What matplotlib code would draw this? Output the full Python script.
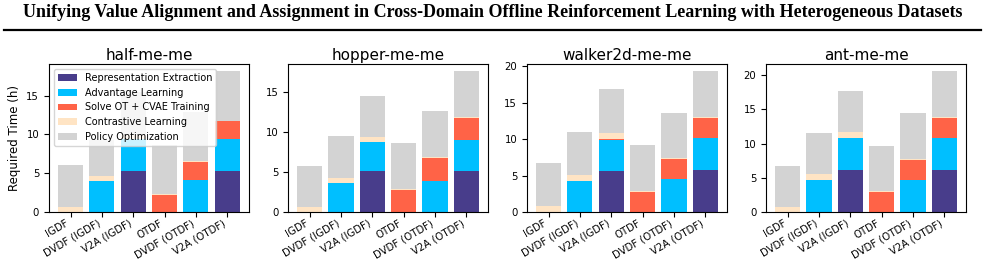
import matplotlib
matplotlib.use("Agg")
import matplotlib.pyplot as plt
from matplotlib.lines import Line2D
import numpy as np

methods = ["IGDF", "DVDF (IGDF)", "V2A (IGDF)", "OTDF", "DVDF (OTDF)", "V2A (OTDF)"]
stages = ["Representation Extraction", "Advantage Learning", "Solve OT + CVAE Training",
          "Contrastive Learning", "Policy Optimization"]
colors = ["#483D8B", "#00BFFF", "#FF6347", "#FFE4C4", "#D3D3D3"]
tasks = ["half-me-me", "hopper-me-me", "walker2d-me-me", "ant-me-me"]

# hours per stage, one list per method order above
half_rep = [0, 0, 5.27, 0, 0, 5.27]
half_adv = [0, 3.97, 4.10, 0, 4.10, 4.15]
half_ot = [0, 0, 0, 2.16, 2.34, 2.28]
half_con = [0.60, 0.70, 0.60, 0.13, 0.10, 0.10]
half_pol = [5.45, 4.63, 5.53, 6.31, 6.36, 6.40]

hopper_rep = [0, 0, 5.08, 0, 0, 5.08]
hopper_adv = [0, 3.58, 3.62, 0, 3.83, 3.92]
hopper_ot = [0, 0, 0, 2.70, 2.84, 2.75]
hopper_con = [0.58, 0.67, 0.63, 0.13, 0.12, 0.12]
hopper_pol = [5.12, 5.21, 5.13, 5.75, 5.79, 5.71]

walker_rep = [0, 0, 5.60, 0, 0, 5.78]
walker_adv = [0, 4.22, 4.30, 0, 4.50, 4.40]
walker_ot = [0, 0, 0.10, 2.75, 2.80, 2.76]
walker_con = [0.78, 0.83, 0.83, 0.14, 0.10, 0.13]
walker_pol = [5.92, 5.91, 6.05, 6.28, 6.18, 6.29]

ant_rep = [0, 0, 6.10, 0, 0, 6.10]
ant_adv = [0, 4.63, 4.68, 0, 4.68, 4.68]
ant_ot = [0, 0, 0, 2.93, 2.92, 2.92]
ant_con = [0.68, 0.88, 0.88, 0.14, 0.12, 0.15]
ant_pol = [6.00, 5.99, 6.00, 6.53, 6.72, 6.75]

all_data = [
    [half_rep, half_adv, half_ot, half_con, half_pol],
    [hopper_rep, hopper_adv, hopper_ot, hopper_con, hopper_pol],
    [walker_rep, walker_adv, walker_ot, walker_con, walker_pol],
    [ant_rep, ant_adv, ant_ot, ant_con, ant_pol],
]

fig = plt.figure(figsize=(9.85, 2.6), dpi=100)

fig.text(0.5, 0.952, "Unifying Value Alignment and Assignment in Cross-Domain Offline "
         "Reinforcement Learning with Heterogeneous Datasets",
         ha="center", va="center", fontsize=13, fontweight="bold", family="Liberation Serif")
fig.add_artist(Line2D([0.004, 0.996], [0.886, 0.886], color="black", lw=1.6))

lefts = [0.0497, 0.2924, 0.535, 0.7777]
x = np.arange(len(methods))

for i, task in enumerate(tasks):
    ax = fig.add_axes([lefts[i], 0.185, 0.203, 0.569])
    bottom = np.zeros(len(methods))
    for vals, name, c in zip(all_data[i], stages, colors):
        ax.bar(x, vals, 0.8, bottom=bottom, color=c, label=name)
        bottom += np.array(vals)
    ax.set_title(task, fontsize=11, pad=3)
    ax.set_xticks(x)
    ax.set_xticklabels(methods, rotation=30, ha="right", fontsize=7.3)
    ax.tick_params(axis="y", labelsize=7.3)
    ax.tick_params(axis="x", pad=1)
    if i == 0:
        ax.set_ylabel("Required Time (h)", fontsize=8.5)
        ax.legend(loc="upper left", fontsize=7)

fig.savefig("out.png", dpi=100)
